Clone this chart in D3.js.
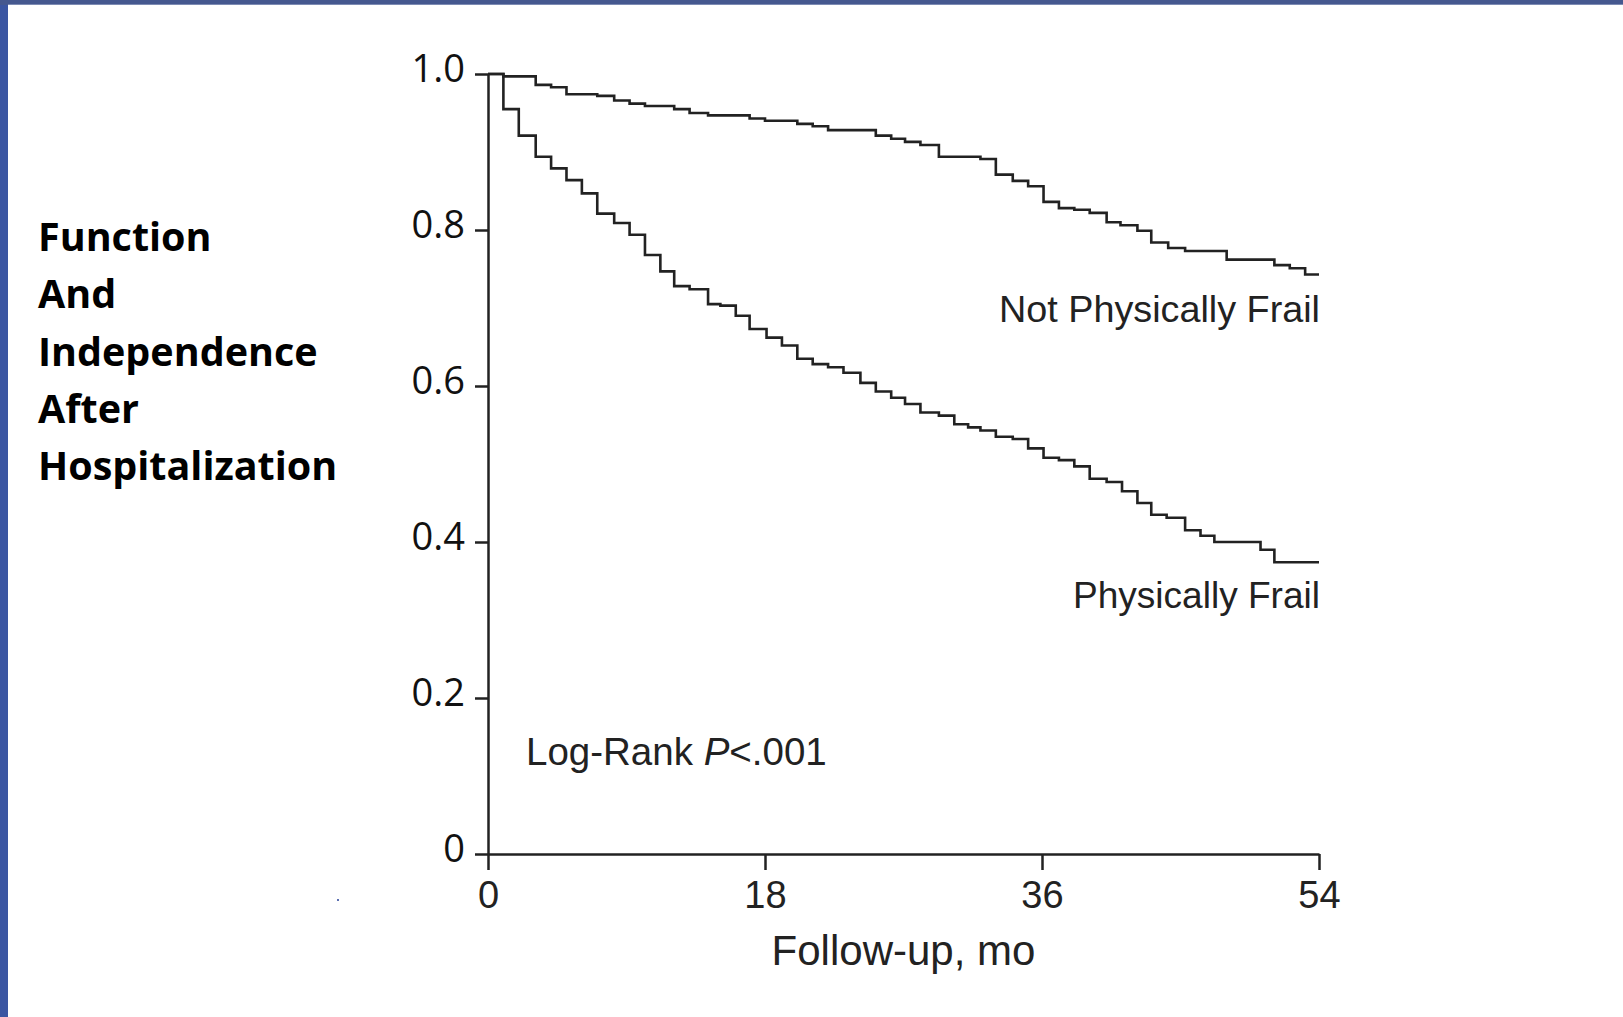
<!DOCTYPE html>
<html>
<head>
<meta charset="utf-8">
<script src="https://cdn.jsdelivr.net/npm/d3@7"></script>
<style>
  body { margin: 0; background: #fff; }
  svg { display: block; }
</style>
</head>
<body>
<div id="km_chart"></div>
<script>
// step points (months, proportion still independent)
var notFrailMonths = [0, 1.0, 3.1, 4.1, 5.1, 7.1, 8.2, 9.2, 10.2, 12.1, 13.1, 14.3, 17.0, 18.0, 20.1, 21.1, 22.1, 25.2, 26.2, 27.1, 28.1, 29.3, 32.0, 33.0, 34.1, 35.1, 36.1, 37.1, 38.1, 39.1, 40.2, 41.1, 42.2, 43.1, 44.2, 45.3, 48.0, 51.1, 52.1, 53.1, 54]
var notFrailValues = [1.0, 0.997, 0.986, 0.983, 0.974, 0.972, 0.966, 0.962, 0.959, 0.955, 0.950, 0.947, 0.943, 0.940, 0.936, 0.933, 0.928, 0.921, 0.917, 0.913, 0.909, 0.894, 0.891, 0.871, 0.863, 0.856, 0.836, 0.828, 0.826, 0.822, 0.810, 0.806, 0.799, 0.784, 0.777, 0.773, 0.762, 0.755, 0.751, 0.743, 0.743]

var frailMonths = [0, 1.0, 2.0, 3.1, 4.1, 5.1, 6.1, 7.1, 8.2, 9.2, 10.2, 11.2, 12.1, 13.1, 14.3, 15.1, 16.1, 17.0, 18.1, 19.1, 20.1, 21.1, 22.1, 23.1, 24.2, 25.2, 26.2, 27.1, 28.1, 29.3, 30.3, 31.2, 32.0, 33.0, 34.1, 35.1, 36.1, 37.1, 38.1, 39.1, 40.2, 41.2, 42.2, 43.1, 44.1, 45.3, 46.3, 47.2, 50.2, 51.1, 54]
var frailValues = [1.0, 0.955, 0.921, 0.894, 0.879, 0.864, 0.847, 0.821, 0.809, 0.794, 0.768, 0.747, 0.728, 0.724, 0.705, 0.703, 0.690, 0.673, 0.662, 0.652, 0.635, 0.628, 0.624, 0.617, 0.604, 0.593, 0.585, 0.577, 0.566, 0.562, 0.551, 0.547, 0.543, 0.535, 0.532, 0.520, 0.508, 0.505, 0.497, 0.481, 0.477, 0.465, 0.450, 0.435, 0.431, 0.415, 0.408, 0.400, 0.390, 0.374, 0.374]

var xTicks = [0, 18, 36, 54]
var yTicks = [0, 0.2, 0.4, 0.6, 0.8, 1.0]
var sideTitle = ["Function", "And", "Independence", "After", "Hospitalization"]

var width = 1623
var height = 1017
var ink = "#222"

var svg = d3.select("#km_chart")
  .append("svg")
  .attr("width", width)
  .attr("height", height)

svg.append("rect").attr("width", width).attr("height", height).attr("fill", "#fff")

// slide frame, blue strips on the left and along the top
svg.append("rect").attr("x", 0).attr("y", 0).attr("width", 8).attr("height", height).attr("fill", "#3b56a2")
svg.append("rect").attr("x", 0).attr("y", 0).attr("width", width).attr("height", 5).attr("fill", "#45588f")
svg.append("rect").attr("x", 8).attr("y", 4).attr("width", width).attr("height", 1).attr("fill", "#7d8bb3")

var x = d3.scaleLinear().domain([0, 54]).range([488, 1319])
var y = d3.scaleLinear().domain([0, 1]).range([854, 74])

// axes
var yAxis = svg.append("g")
  .attr("transform", "translate(" + x(0) + ",0)")
  .call(d3.axisLeft(y)
    .tickValues(yTicks)
    .tickSize(13)
    .tickSizeOuter(0)
    .tickPadding(10)
    .tickFormat(function (d) { return d === 0 ? "0" : d.toFixed(1) }))

yAxis.selectAll("text")
  .attr("dy", "0.2em")
  .style("font-family", "'Open Sans', sans-serif")
  .style("font-size", "38px")
  .attr("fill", "#111")

var xAxis = svg.append("g")
  .attr("transform", "translate(0," + y(0) + ")")
  .call(d3.axisBottom(x)
    .tickValues(xTicks)
    .tickSize(16)
    .tickSizeOuter(0)
    .tickPadding(11))

xAxis.selectAll("text")
  .style("font-family", "'Liberation Sans', Arial, sans-serif")
  .style("font-size", "38px")
  .attr("fill", ink)

svg.selectAll(".domain, .tick line")
  .attr("stroke", ink)
  .attr("stroke-width", 2.5)

// survival curves as steps
var line = d3.line()
  .x(function (d) { return x(d[0]) })
  .y(function (d) { return y(d[1]) })
  .curve(d3.curveStepAfter)

var curves = [
  d3.zip(notFrailMonths, notFrailValues),
  d3.zip(frailMonths, frailValues)
]

svg.selectAll("path.km")
  .data(curves)
  .enter()
  .append("path")
  .attr("class", "km")
  .attr("d", line)
  .attr("fill", "none")
  .attr("stroke", ink)
  .attr("stroke-width", 2.6)

// curve labels and test result
var helv = "'Liberation Sans', Arial, sans-serif"

svg.append("text")
  .attr("x", 999).attr("y", 322)
  .attr("textLength", 321)
  .attr("lengthAdjust", "spacingAndGlyphs")
  .style("font-family", helv).style("font-size", "36px")
  .attr("fill", ink)
  .text("Not Physically Frail")

svg.append("text")
  .attr("x", 1073).attr("y", 608)
  .attr("textLength", 247)
  .attr("lengthAdjust", "spacingAndGlyphs")
  .style("font-family", helv).style("font-size", "36px")
  .attr("fill", ink)
  .text("Physically Frail")

var logRank = svg.append("text")
  .attr("x", 526).attr("y", 765)
  .style("font-family", helv).style("font-size", "38.5px")
  .attr("fill", ink)
logRank.append("tspan").text("Log-Rank ")
logRank.append("tspan").style("font-style", "italic").text("P")
logRank.append("tspan").text("<.001")

svg.append("text")
  .attr("x", (x(0) + x(54)) / 2).attr("y", 965)
  .attr("text-anchor", "middle")
  .style("font-family", helv).style("font-size", "42px")
  .attr("fill", ink)
  .text("Follow-up, mo")

// stray speck left on the slide
svg.append("rect").attr("x", 337).attr("y", 899).attr("width", 2).attr("height", 2).attr("fill", "#5a6fb0")

// y title sits on the left as stacked bold words
svg.selectAll("text.side")
  .data(sideTitle)
  .enter()
  .append("text")
  .attr("class", "side")
  .attr("x", 38)
  .attr("y", function (d, i) { return 251 + i * 57.3 })
  .style("font-family", "'Open Sans', sans-serif")
  .style("font-weight", "bold")
  .style("font-size", "39.5px")
  .attr("fill", "#000")
  .text(function (d) { return d })
</script>
</body>
</html>
